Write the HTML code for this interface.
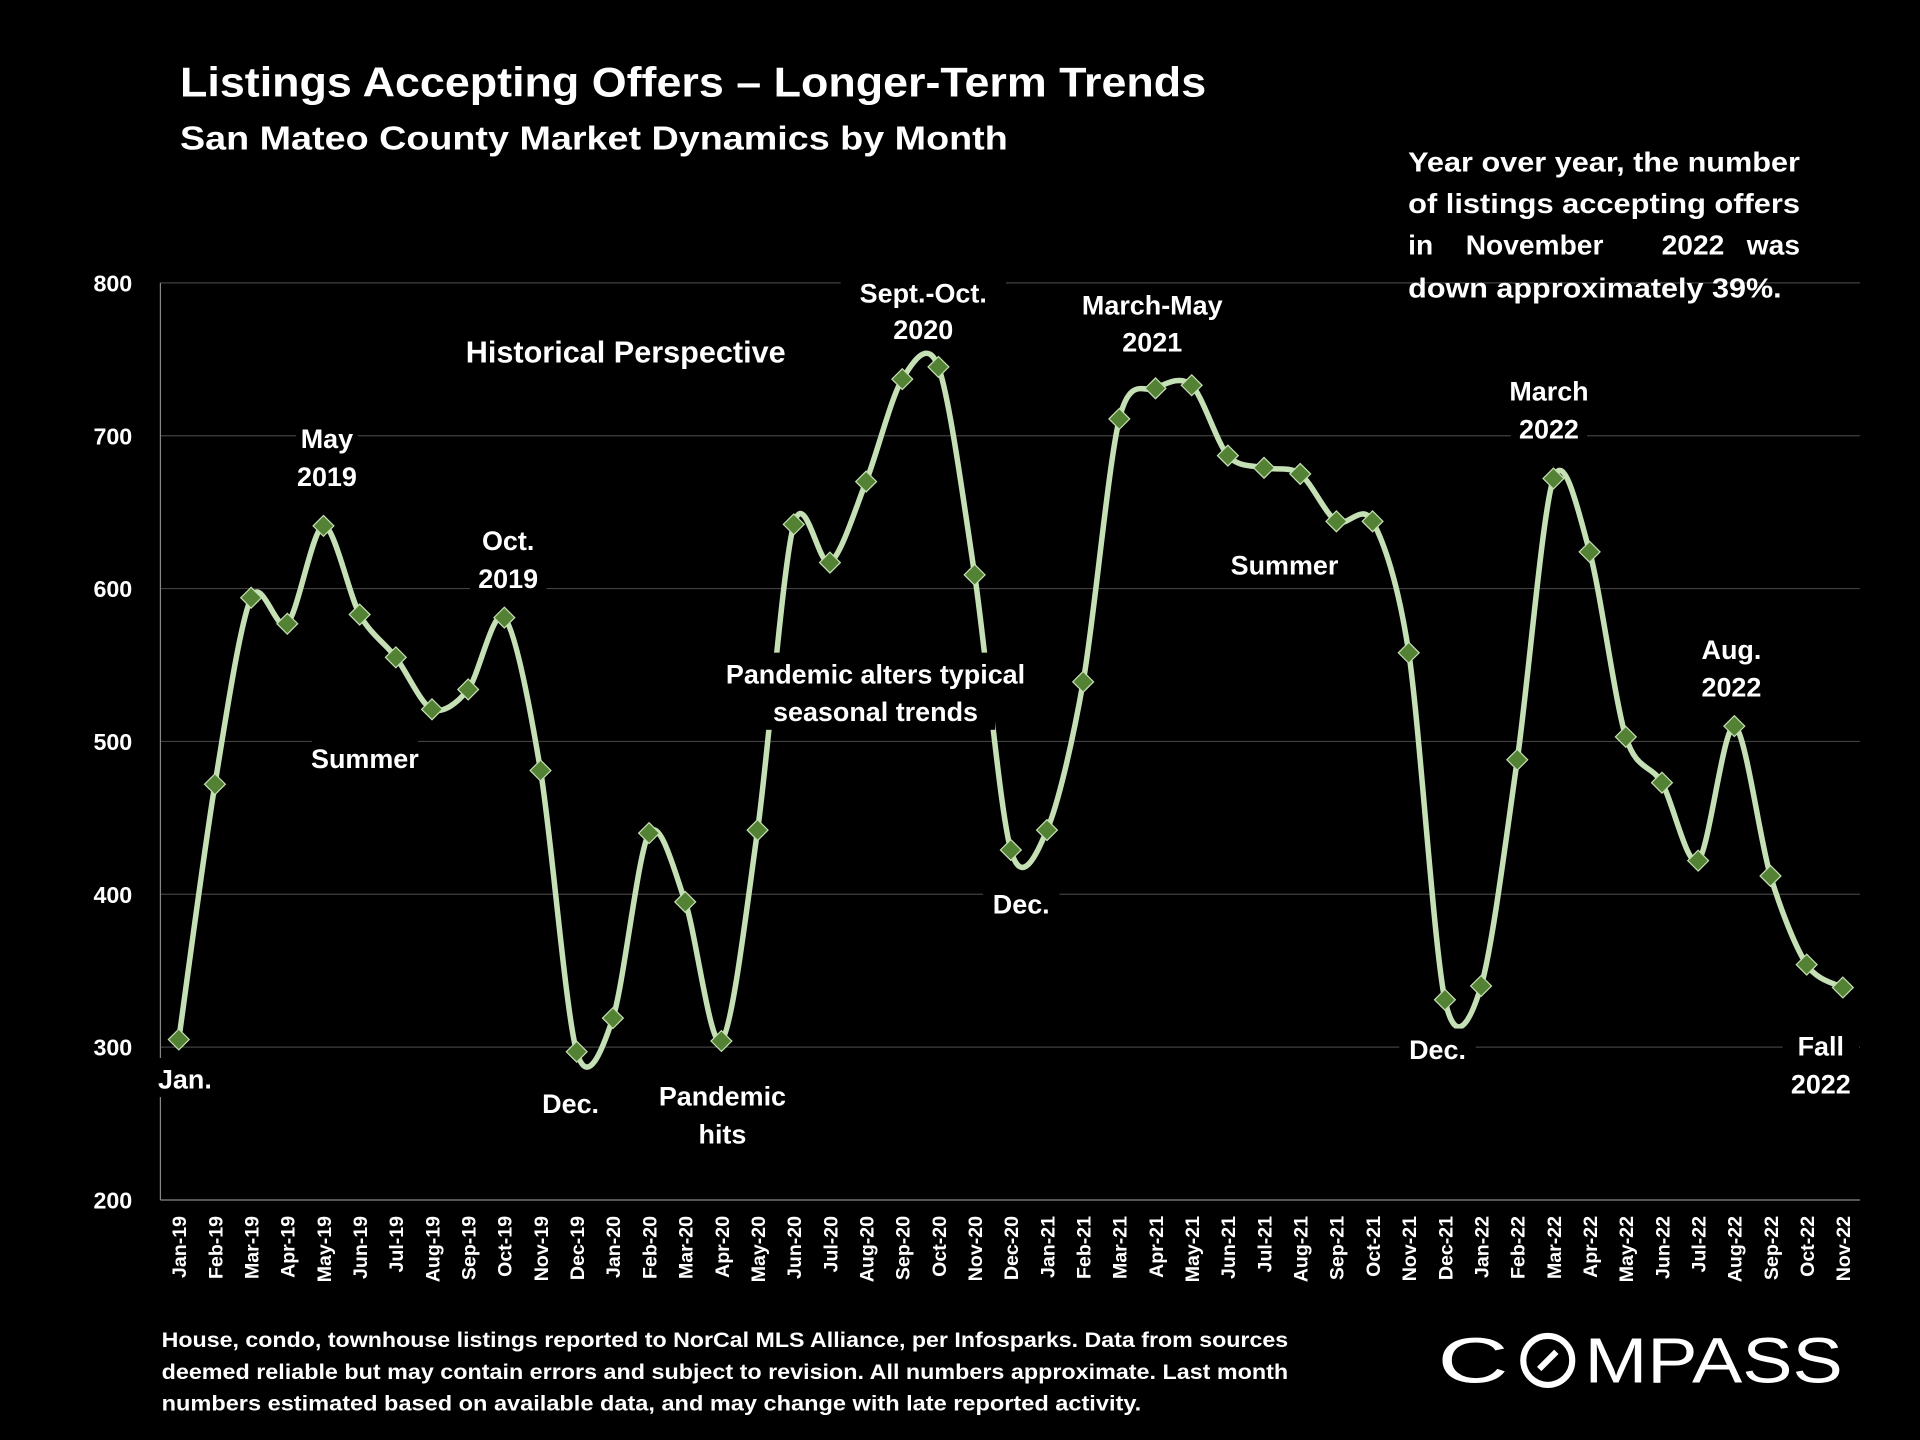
<!DOCTYPE html>
<html><head><meta charset="utf-8"><style>
html,body{margin:0;padding:0;background:#000;}
svg{display:block;}
text{font-family:"Liberation Sans",sans-serif;font-weight:bold;fill:#fff;}
</style></head><body>
<svg id="chart" width="1920" height="1440" viewBox="0 0 1568 1176" xmlns="http://www.w3.org/2000/svg">
<rect width="1568" height="1176" fill="#000"/>
<text x="147" y="79" font-size="34" textLength="838" lengthAdjust="spacingAndGlyphs">Listings Accepting Offers – Longer-Term Trends</text>
<text x="147" y="122" font-size="27" textLength="676" lengthAdjust="spacingAndGlyphs">San Mateo County Market Dynamics by Month</text>
<g id="grid"></g>
<g id="yticks"></g>
<g id="xticks"></g>
<g id="series"></g>
<g id="annots"></g>
<g font-size="23">
<text x="1150" y="140" textLength="320" lengthAdjust="spacingAndGlyphs">Year over year, the number</text>
<text x="1150" y="174" textLength="320" lengthAdjust="spacingAndGlyphs">of listings accepting offers</text>
<text x="1150" y="208">in</text>
<text x="1197" y="208">November</text>
<text x="1357" y="208">2022</text>
<text x="1470" y="208" text-anchor="end">was</text>
<text x="1150" y="243" textLength="305" lengthAdjust="spacingAndGlyphs">down approximately 39%.</text>
</g>
<g font-size="17">
<text x="132" y="1100" textLength="920" lengthAdjust="spacingAndGlyphs">House, condo, townhouse listings reported to NorCal MLS Alliance, per Infosparks. Data from sources</text>
<text x="132" y="1126" textLength="920" lengthAdjust="spacingAndGlyphs">deemed reliable but may contain errors and subject to revision. All numbers approximate. Last month</text>
<text x="132" y="1152" textLength="800" lengthAdjust="spacingAndGlyphs">numbers estimated based on available data, and may change with late reported activity.</text>
</g>
<g>
<text x="1174" y="1129" font-size="52" style="font-weight:normal" textLength="58" lengthAdjust="spacingAndGlyphs">C</text>
<circle cx="1264" cy="1111" r="20" fill="none" stroke="#fff" stroke-width="5"/>
<line x1="1257" y1="1118" x2="1271" y2="1104" stroke="#fff" stroke-width="5"/>
<text x="1294" y="1129" font-size="52" style="font-weight:normal" textLength="211" lengthAdjust="spacingAndGlyphs">MPASS</text>
</g>
</svg>
<script>
const categories=["Jan-19","Feb-19","Mar-19","Apr-19","May-19","Jun-19","Jul-19","Aug-19","Sep-19","Oct-19","Nov-19","Dec-19","Jan-20","Feb-20","Mar-20","Apr-20","May-20","Jun-20","Jul-20","Aug-20","Sep-20","Oct-20","Nov-20","Dec-20","Jan-21","Feb-21","Mar-21","Apr-21","May-21","Jun-21","Jul-21","Aug-21","Sep-21","Oct-21","Nov-21","Dec-21","Jan-22","Feb-22","Mar-22","Apr-22","May-22","Jun-22","Jul-22","Aug-22","Sep-22","Oct-22","Nov-22"];
const values=[305,472,594,577,641,583,555,521,534,581,481,297,319,440,395,304,442,642,617,670,737,745,609,429,442,539,711,731,733,687,679,675,644,644,558,331,340,488,672,624,503,473,422,510,412,354,339];
const yTicks=[200,300,400,500,600,700,800];
const NS="http://www.w3.org/2000/svg";
const L=131,R=1519,T=231,B=980;
const n=categories.length;
const xS=i=>146+i*(1505-146)/(n-1);
const yS=v=>B-(v-200)*(B-T)/600;
function mk(tag,attrs,parent,txt){const e=document.createElementNS(NS,tag);for(const k in attrs)e.setAttribute(k,attrs[k]);if(txt!==undefined)e.textContent=txt;parent.appendChild(e);return e;}
const grid=document.getElementById('grid'),yt=document.getElementById('yticks'),xt=document.getElementById('xticks'),an=document.getElementById('annots'),se=document.getElementById('series');
yTicks.forEach(v=>{
  const g=mk('line',{x1:L,x2:R,y1:yS(v),y2:yS(v),stroke:v===200?'#888':'#404040','stroke-width':1},grid);
  
  
  const t=mk('text',{x:108,y:yS(v)+7,'text-anchor':'end','font-size':19},yt,String(v));
  
  
});
mk('line',{x1:L,x2:L,y1:T,y2:B,stroke:'#888','stroke-width':1},grid);
categories.forEach((c,i)=>{
  const t=mk('text',{x:0,y:0,'text-anchor':'end','font-size':16,transform:`translate(${xS(i)+6},993) rotate(-90)`},xt,c);
  
  
});
const pts=values.map((v,i)=>[xS(i),yS(v)]);
let d=`M${pts[0][0]},${pts[0][1]}`;
for(let i=0;i<pts.length-1;i++){
  const p0=pts[Math.max(0,i-1)],p1=pts[i],p2=pts[i+1],p3=pts[Math.min(pts.length-1,i+2)];
  const k=0.15;
  d+=` C${p1[0]+(p2[0]-p0[0])*k},${p1[1]+(p2[1]-p0[1])*k} ${p2[0]-(p3[0]-p1[0])*k},${p2[1]-(p3[1]-p1[1])*k} ${p2[0]},${p2[1]}`;
}
const line=mk('path',{d:d,fill:'none',stroke:'#c5e0b4','stroke-width':4.5},se);


pts.forEach((p,i)=>{
  const s=8.5;
  const m=mk('polygon',{points:`${p[0]},${p[1]-s} ${p[0]+s},${p[1]} ${p[0]},${p[1]+s} ${p[0]-s},${p[1]}`,fill:'#548235',stroke:'#c5e0b4','stroke-width':1},se);
  
  
});
const notes=[["Historical Perspective",511,296,25],["May",267,366,22],["2019",267,397,22],["Oct.",415,449,22],["2019",415,480,22],["Summer",298,627,22],["Jan.",151,889,22],["Dec.",466,909,22],["Pandemic",590,903,22],["hits",590,934,22],["Pandemic alters typical",715,558,22],["seasonal trends",715,589,22],["Sept.-Oct.",754,247,22],["2020",754,277,22],["March-May",941,257,22],["2021",941,287,22],["Summer",1049,469,22],["Dec.",834,746,22],["March",1265,327,22],["2022",1265,358,22],["Dec.",1174,865,22],["Aug.",1414,538,22],["2022",1414,569,22],["Fall",1487,862,22],["2022",1487,893,22]];
notes.forEach(a=>{
  const w=a[0].length*a[3]*0.55+14;
  mk('rect',{x:a[1]-w/2,y:a[2]-a[3]-3,width:w,height:a[3]+10,fill:'#000'},an);
  const t=mk('text',{x:a[1],y:a[2],'text-anchor':'middle','font-size':a[3]},an,a[0]);
  
  
});
</script>
</body></html>
